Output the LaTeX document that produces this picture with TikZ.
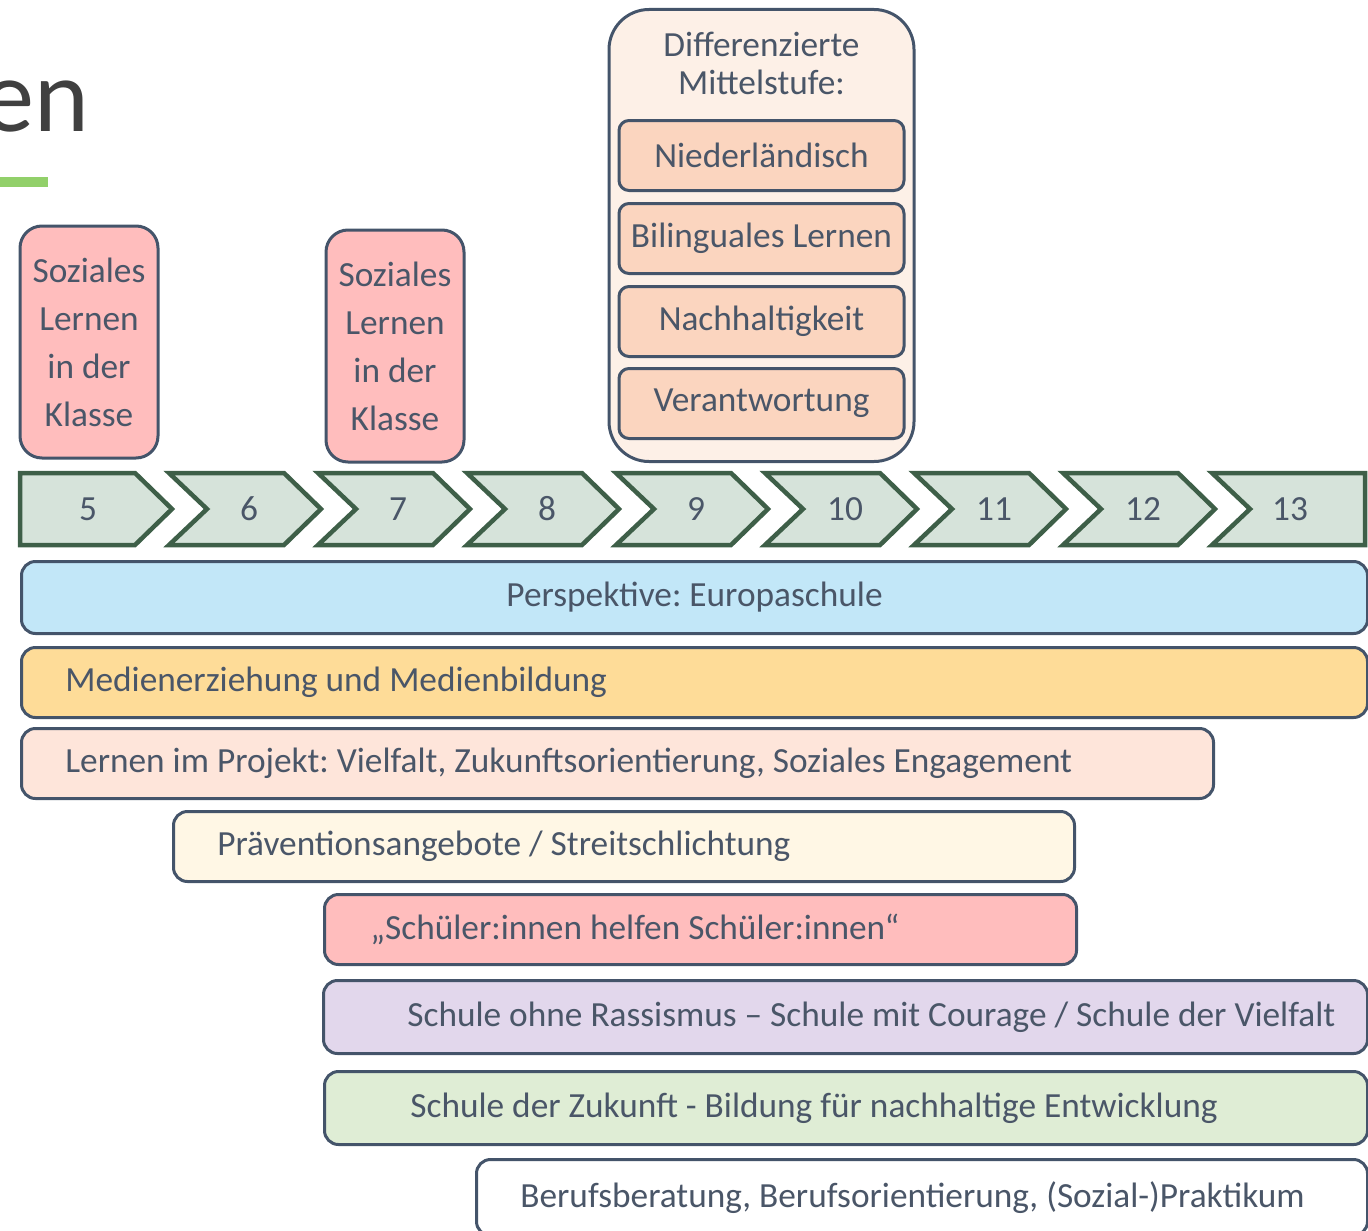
\documentclass[tikz,border=0pt]{standalone}
\usepackage{fontspec}
\setmainfont{Carlito}
\newfontfamily\titlefont{Lato}
\usetikzlibrary{positioning}
\newlength{\pxu}\setlength{\pxu}{0.02cm}
\frenchspacing
\definecolor{cBorder}{HTML}{44546A}
\definecolor{cText}{HTML}{4A5668}
\definecolor{cTitle}{HTML}{404040}
\definecolor{cGreen}{HTML}{92D06A}
\definecolor{cPink}{HTML}{FFBDBD}
\definecolor{cCream}{HTML}{FDF0E7}
\definecolor{cPeach}{HTML}{FBD5BF}
\definecolor{cChev}{HTML}{3E5F48}
\definecolor{cChevFill}{HTML}{D6E3DA}
\definecolor{cBlue}{HTML}{C2E7F8}
\definecolor{cYellow}{HTML}{FEDC98}
\definecolor{cLightPeach}{HTML}{FEE5DA}
\definecolor{cIvory}{HTML}{FFF7E5}
\definecolor{cLavender}{HTML}{E2D7EC}
\definecolor{cMint}{HTML}{DFEDD5}
\tikzset{
  txt/.style={text=cText, font=\fontsize{20.1}{27.3}\selectfont, inner sep=0pt},
  box/.style={txt, draw=cBorder, line width=3\pxu, rounded corners=14\pxu},
  bar/.style={box, minimum height=71\pxu, anchor=north west},
  tall/.style={box, rounded corners=22\pxu, align=center, minimum width=138\pxu, minimum height=232\pxu},
  offer/.style={box, fill=cPeach, rounded corners=10\pxu, minimum width=285\pxu, minimum height=70\pxu, anchor=north},
  chev/.style={draw=cChev, fill=cChevFill, line width=4.5\pxu, line join=miter},
  num/.style={txt}
}
\begin{document}
\begin{tikzpicture}[x=0.02cm, y=-0.02cm]
\useasboundingbox (0,0) rectangle (1368,1230);

% title rest and underline
\node[font=\titlefont\fontsize{56}{60}\selectfont, text=cTitle, anchor=base east, inner sep=0pt] (title) at (90,132) {en};
\fill[cGreen] (0,177) rectangle (48,187);

% social learning
\node[tall, fill=cPink] (sl1) at (89,342) {Soziales\\Lernen\\in der\\Klasse};
\node[tall, fill=cPink] (sl2) at (395,346) {Soziales\\Lernen\\in der\\Klasse};

% middle school
\node[box, fill=cCream, rounded corners=40\pxu, minimum width=305\pxu, minimum height=452\pxu, anchor=north] (mid) at (761.5,8) {};
\node[txt, align=center, font=\fontsize{20.1}{21.6}\selectfont, below=24\pxu of mid.north] (midtitle) {Differenzierte\\Mittelstufe:};
\node[offer] (nl) at (761.5,119) {Niederländisch};
\node[offer] (bili) at (761.5,202) {Bilinguales Lernen};
\node[offer] (nach) at (761.5,285) {Nachhaltigkeit};
\node[offer] (verant) at (761.5,367) {Verantwortung};

% grades
\draw[chev] (20,473) -- (135,473) -- (172,509) -- (135,545) -- (20,545) -- cycle;
\node[num] (g5) at (88,509) {5};
\foreach \n [count=\k] in {6,...,12} {
  \pgfmathsetmacro\L{20+149*\k}
  \draw[chev] (\L,473) -- ++(115,0) -- ++(37,36) -- ++(-37,36) -- ++(-115,0) -- ++(38,-36) -- cycle;
  \node[num] (g\n) at (\L+80,509) {\n};
}
\draw[chev] (1212,473) -- (1365,473) -- (1365,545) -- (1212,545) -- (1250,509) -- cycle;
\node[num] (g13) at (1290,509) {13};

% bars
\node[bar, fill=cBlue, minimum width=1346\pxu, minimum height=72\pxu] (persp) at (20,560) {Perspektive: Europaschule};
\node[bar, fill=cYellow, minimum width=1346\pxu, minimum height=70\pxu] (media) at (20,646) {};
\node[txt, right=45\pxu of media.west] (tmedia) {Medienerziehung und Medienbildung};
\node[bar, fill=cLightPeach, minimum width=1192\pxu, minimum height=70\pxu] (proj) at (20,727) {};
\node[txt, right=45\pxu of proj.west] (tproj) {Lernen im Projekt: Vielfalt, Zukunftsorientierung, Soziales Engagement};
\node[bar, fill=cIvory, minimum width=901\pxu, minimum height=70\pxu] (praev) at (172,810) {};
\node[txt, right=45\pxu of praev.west] (tpraev) {Präventionsangebote / Streitschlichtung};
\node[bar, fill=cPink, minimum width=752\pxu, minimum height=70\pxu] (help) at (323,893) {};
\node[txt, right=47\pxu of help.west] (thelp) {„Schüler:innen helfen Schüler:innen“};
\node[bar, fill=cLavender, minimum width=1044\pxu, minimum height=73\pxu] (rass) at (322,979) {};
\node[txt, right=85\pxu of rass.west] (trass) {Schule ohne Rassismus – Schule mit Courage / Schule der Vielfalt};
\node[bar, fill=cMint, minimum width=1043\pxu, minimum height=73\pxu] (zuk) at (323,1070) {};
\node[txt, right=87\pxu of zuk.west] (tzuk) {Schule der Zukunft - Bildung für nachhaltige Entwicklung};
\node[bar, fill=white, minimum width=891\pxu, minimum height=76\pxu] (beruf) at (475,1158) {};
\node[txt, right=45\pxu of beruf.west] (tberuf) {Berufsberatung, Berufsorientierung, (Sozial-)Praktikum};
\end{tikzpicture}
\end{document}
